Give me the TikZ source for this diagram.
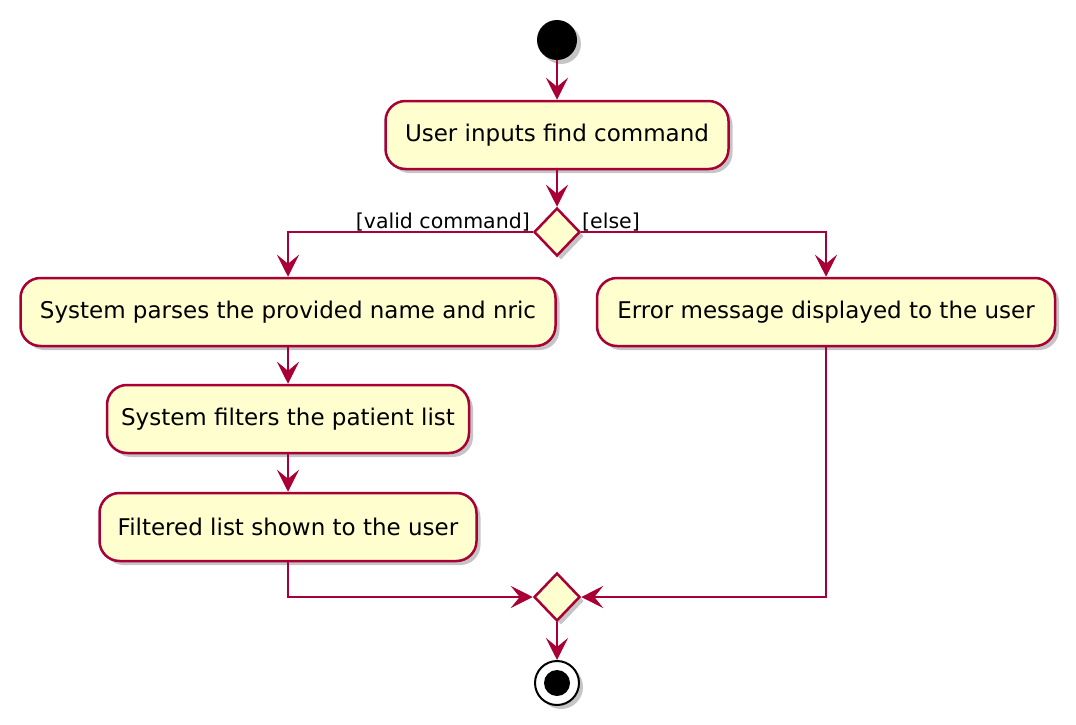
\documentclass[tikz,border=0pt]{standalone}
\usepackage{fontspec}
\setmainfont{DejaVu Sans}
\usetikzlibrary{arrows.meta,shapes.geometric,shadows}
\definecolor{umlred}{HTML}{A80036}
\definecolor{umlfill}{HTML}{FEFECE}
\tikzset{
  sh/.style={drop shadow={shadow xshift=4pt,shadow yshift=-4pt,fill=black!45,opacity=0.5}},
  act/.style={draw=umlred,line width=2.5pt,fill=umlfill,rounded corners=20pt,minimum height=68pt,inner xsep=10pt,font=\fontsize{23}{27}\selectfont,sh},
  dec/.style={draw=umlred,line width=2.5pt,fill=umlfill,diamond,minimum width=46pt,minimum height=48pt,inner sep=0pt,sh},
  flow/.style={draw=umlred,line width=2.5pt,-{Stealth[length=22pt,width=22pt,inset=9pt]}},
  lbl/.style={font=\fontsize{20.5}{24}\selectfont,inner sep=0pt}
}
\begin{document}
\begin{tikzpicture}[x=1pt,y=-1pt]
\useasboundingbox (0,0) rectangle (1076,725);
\node[circle,fill=black,minimum size=40pt,inner sep=0pt,sh] (start) at (557,40) {};
\node[act,minimum width=343pt] (b1) at (557,135) {User inputs find command};
\node[dec] (d1) at (557,232) {};
\node[act,minimum width=535pt] (b2) at (288,312) {System parses the provided name and nric};
\node[act,minimum width=458pt] (b3) at (826,312) {Error message displayed to the user};
\node[act,minimum width=362pt] (b4) at (288,419) {System filters the patient list};
\node[act,minimum width=377pt] (b5) at (288,527) {Filtered list shown to the user};
\node[dec] (d2) at (557,597) {};
\node[circle,draw=black,line width=2pt,fill=white,minimum size=44pt,inner sep=0pt,sh] (stop) at (557,683) {};
\node[circle,fill=black,minimum size=26pt,inner sep=0pt] (stopin) at (557,683) {};
\node[lbl,anchor=base east] (lv) at (530,228) {[valid command]};
\node[lbl,anchor=base west] (le) at (582,228) {[else]};
\draw[flow] (start) -- (b1);
\draw[flow] (b1) -- (d1);
\draw[flow] (d1.west) -| (b2.north);
\draw[flow] (d1.east) -| (b3.north);
\draw[flow] (b2) -- (b4);
\draw[flow] (b4) -- (b5);
\draw[flow] (b5.south) |- (d2.west);
\draw[flow] (b3.south) |- (d2.east);
\draw[flow] (d2) -- (stop);
\end{tikzpicture}
\end{document}
